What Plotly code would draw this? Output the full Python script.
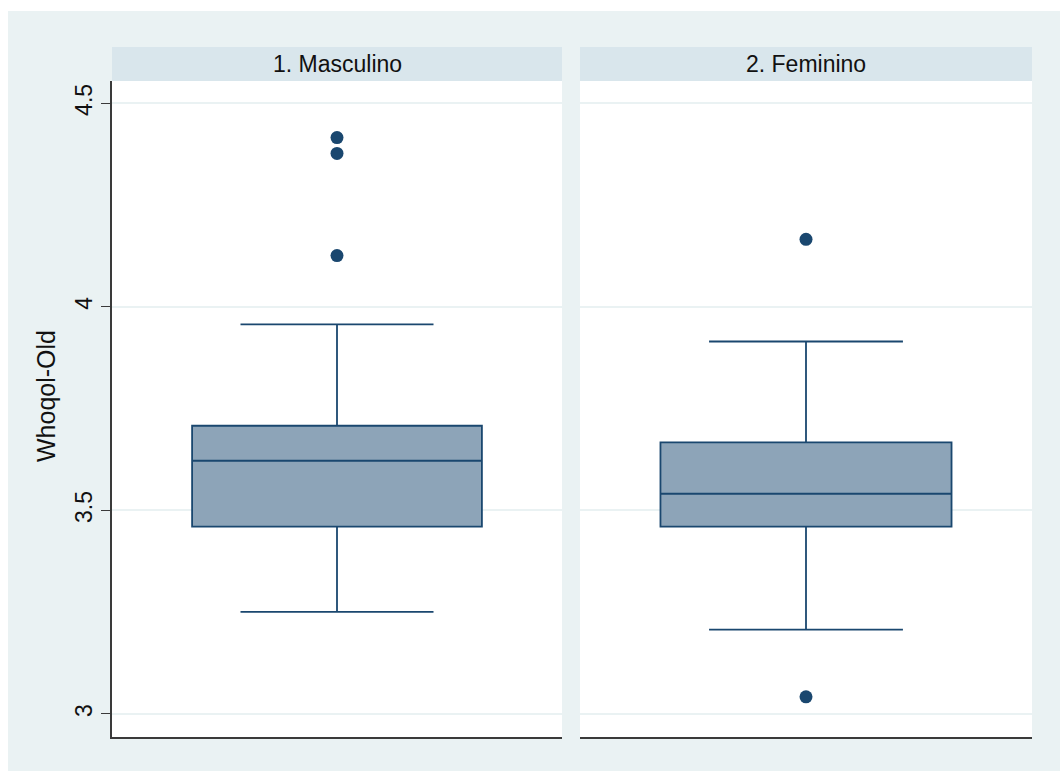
import plotly.graph_objects as go

# Data
groups = ["1. Masculino", "2. Feminino"]
q1_vals = [3.460, 3.460]
median_vals = [3.622, 3.541]
q3_vals = [3.708, 3.667]
lower_whisker = [3.251, 3.207]
upper_whisker = [3.957, 3.915]
outliers = [[4.416, 4.377, 4.126], [4.166, 3.042]]
y_ticks = [3, 3.5, 4, 4.5]
y_tick_labels = ["3", "3.5", "4", "4.5"]
y_title = "Whoqol-Old"

NAVY = "#1A476F"
FILL = "#8DA4B8"
BG = "#EAF2F3"
HEAD = "#D9E6EC"
FONT = "Liberation Sans, Arial, Helvetica, sans-serif"

W, H = 1060, 771
ml, mr, mt, mb = 112, 28, 47, 34
pw = W - ml - mr
ph = H - mt - mb
ytop_dom = (H - mb - 81) / ph

fig = go.Figure()

xdomains = [[0, 450 / pw], [(580 - ml) / pw, 1]]
for i, g in enumerate(groups):
    xa = "x" if i == 0 else "x2"
    ya = "y" if i == 0 else "y2"
    fig.add_trace(go.Box(
        x=[0], q1=[q1_vals[i]], median=[median_vals[i]], q3=[q3_vals[i]],
        lowerfence=[lower_whisker[i]], upperfence=[upper_whisker[i]],
        width=0.644, whiskerwidth=0.666, boxpoints=False,
        fillcolor=FILL, line=dict(color=NAVY, width=1.8),
        xaxis=xa, yaxis=ya, showlegend=False, hoverinfo="skip",
    ))
    fig.add_trace(go.Scatter(
        x=[0] * len(outliers[i]), y=outliers[i], mode="markers",
        marker=dict(color=NAVY, size=13, line=dict(width=0)),
        xaxis=xa, yaxis=ya, showlegend=False, hoverinfo="skip",
    ))

yrange = [2.9434, 4.5549]
common_x = dict(range=[-0.5, 0.5], showticklabels=False, ticks="", showgrid=False,
                zeroline=False, showline=True, linecolor="#3a3a3a", linewidth=1.6)
fig.update_layout(
    width=W, height=H,
    margin=dict(l=ml, r=mr, t=mt, b=mb, pad=0),
    paper_bgcolor=BG, plot_bgcolor="white",
    font=dict(family=FONT, color="#111111"),
    xaxis=dict(domain=xdomains[0], anchor="y", **common_x),
    xaxis2=dict(domain=xdomains[1], anchor="y2", **common_x),
    yaxis=dict(domain=[0, ytop_dom], range=yrange, anchor="x",
               tickvals=y_ticks, ticktext=y_tick_labels, tickangle=-90,
               ticks="outside", ticklen=9, tickcolor="#3a3a3a", tickwidth=1.3,
               tickfont=dict(size=23, color="#111111"),
               showline=True, linecolor="#3a3a3a", linewidth=1.6,
               showgrid=True, gridcolor=BG, gridwidth=1.6, zeroline=False),
    yaxis2=dict(domain=[0, ytop_dom], range=yrange, anchor="x2",
                tickvals=y_ticks, showticklabels=False, ticks="",
                showline=False, showgrid=True, gridcolor=BG, gridwidth=1.6,
                zeroline=False),
)

shapes = []
annotations = []
for i, g in enumerate(groups):
    x0, x1 = xdomains[i]
    shapes.append(dict(type="rect", xref="paper", yref="paper", x0=x0, x1=x1,
                       y0=ytop_dom, y1=1, fillcolor=HEAD, line=dict(width=0), layer="below"))
    annotations.append(dict(text=g, xref="paper", yref="paper", x=(x0 + x1) / 2,
                            y=(ytop_dom + 1) / 2, showarrow=False,
                            font=dict(size=23, color="#111111", family=FONT),
                            xanchor="center", yanchor="middle"))
# white page border (top and left)
shapes.append(dict(type="rect", xref="paper", yref="paper", x0=-0.3, x1=(8 - ml) / pw,
                   y0=-0.2, y1=1.2, fillcolor="white", line=dict(width=0), layer="below"))
shapes.append(dict(type="rect", xref="paper", yref="paper", x0=-0.3, x1=1.2,
                   y0=(H - mb - 11) / ph, y1=1.2, fillcolor="white", line=dict(width=0), layer="below"))
annotations.append(dict(text=y_title, xref="paper", yref="paper", x=(46 - ml) / pw,
                        y=(H - mb - 396) / ph, showarrow=False, textangle=-90,
                        font=dict(size=25, color="#111111", family=FONT),
                        xanchor="center", yanchor="middle"))
fig.update_layout(shapes=shapes, annotations=annotations)

fig.write_html("out.html")
